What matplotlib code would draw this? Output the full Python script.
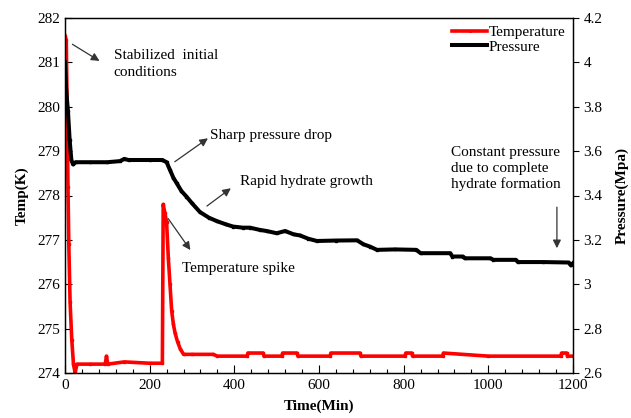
import matplotlib
matplotlib.use("Agg")
import matplotlib.pyplot as plt
from matplotlib.ticker import MultipleLocator, FuncFormatter

# ---- data ----
temp_t = [0, 3, 5, 7, 9, 12, 16, 20, 24, 28, 60, 95, 98, 101, 140, 200, 230,
          232, 236, 240, 244, 248, 252, 256, 260, 266, 272, 280, 300, 350, 360,
          430, 432, 468, 470, 512, 514, 548, 550, 626, 628, 697, 699, 803, 805,
          819, 821, 892, 894, 1000, 1171, 1173, 1185, 1187, 1200]
temp_v = [281.6, 281.5, 280.0, 278.2, 276.9, 275.6, 274.75, 274.2, 274.0, 274.2,
          274.2, 274.2, 274.38, 274.2, 274.25, 274.22, 274.22,
          277.8, 277.6, 277.4, 276.6, 276.0, 275.4, 275.1, 274.9, 274.7, 274.55,
          274.42, 274.42, 274.42, 274.38,
          274.38, 274.45, 274.45, 274.38, 274.38, 274.45, 274.45, 274.38,
          274.38, 274.45, 274.45, 274.38, 274.38, 274.45, 274.45, 274.38,
          274.38, 274.45, 274.38, 274.38, 274.45, 274.45, 274.38, 274.38]

pres_t = [0, 3, 7, 11, 15, 19, 25, 60, 100, 130, 140, 150, 200, 230, 240, 248,
          256, 264, 275, 287, 300, 319, 340, 358, 380, 397, 420, 437, 460, 476,
          500, 520, 540, 555, 575, 595, 640, 690, 705, 720, 737, 780, 830, 840,
          910, 915, 940, 945, 1005, 1012, 1065, 1070, 1130, 1190, 1195, 1200]
pres_v = [4.0, 3.87, 3.78, 3.65, 3.56, 3.54, 3.55, 3.55, 3.55, 3.555, 3.565,
          3.56, 3.56, 3.56, 3.55, 3.515, 3.48, 3.455, 3.42, 3.395, 3.365, 3.325,
          3.30, 3.285, 3.27, 3.26, 3.255, 3.255, 3.245, 3.24, 3.23, 3.24, 3.225,
          3.22, 3.205, 3.195, 3.197, 3.198, 3.18, 3.17, 3.155, 3.157, 3.155,
          3.14, 3.14, 3.125, 3.125, 3.117, 3.117, 3.11, 3.11, 3.10, 3.10, 3.098,
          3.085, 3.095]

x_ticks = [0, 200, 400, 600, 800, 1000, 1200]
temp_ticks = [274, 275, 276, 277, 278, 279, 280, 281, 282]
pres_ticks = [2.6, 2.8, 3.0, 3.2, 3.4, 3.6, 3.8, 4.0, 4.2]

plt.rcParams['font.family'] = ['Liberation Serif', 'DejaVu Serif']
FS = 11

fig = plt.figure(figsize=(6.31, 4.18), dpi=100)
ax1 = fig.add_axes([65/631, 1-373/418, (573-65)/631, (373-18)/418])
ax2 = ax1.twinx()

l1, = ax1.plot(temp_t, temp_v, color='#ff0000', lw=2.6, marker='s', ms=1.8,
               mec='#ff0000', label='Temperature')
l2, = ax2.plot(pres_t, pres_v, color='black', lw=2.9, marker='s', ms=1.8,
               mec='black', label='Pressure')

ax1.set_xlim(0, 1200)
ax1.set_ylim(274, 282)
ax2.set_ylim(2.6, 4.2)
ax1.set_xticks(x_ticks)
ax1.xaxis.set_minor_locator(MultipleLocator(40))
ax1.set_yticks(temp_ticks)
ax2.set_yticks(pres_ticks)
ax2.yaxis.set_major_formatter(FuncFormatter(lambda v, p: f"{v:g}"))

ax1.tick_params(axis='x', which='major', direction='in', length=6, width=0.8,
                labelsize=FS, pad=4)
ax1.tick_params(axis='x', which='minor', direction='in', length=3, width=0.8)
ax1.tick_params(axis='y', direction='in', length=5, width=0.8, labelsize=FS)
ax2.tick_params(axis='y', direction='out', length=4, width=0.8, labelsize=FS)
for a in (ax1, ax2):
    for s in a.spines.values():
        s.set_linewidth(0.9)
        s.set_color('black')

ax1.set_xlabel('Time(Min)', fontsize=FS, fontweight='bold', labelpad=6)
ax1.set_ylabel('Temp(K)', fontsize=FS, fontweight='bold', labelpad=6)
ax2.set_ylabel('Pressure(Mpa)', fontsize=FS, fontweight='bold', labelpad=9)

ax2.legend(handles=[l1, l2], loc='upper right', frameon=False, fontsize=FS,
           handlelength=2.3, handletextpad=0.1, borderaxespad=0.1,
           labelspacing=0.05, markerscale=0.6)

arrow = dict(arrowstyle='-|>', color='#333333', lw=0.9, mutation_scale=12)
# Stabilized initial conditions
ax1.annotate('', xy=(87, 281.0), xytext=(12, 281.44), arrowprops=arrow)
ax1.text(115, 281.3, 'Stabilized  initial\nconditions', fontsize=FS,
         va='top', ha='left', linespacing=1.35)
# Sharp pressure drop
ax2.annotate('', xy=(343, 3.665), xytext=(254, 3.545), arrowprops=arrow)
ax2.text(343, 3.67, 'Sharp pressure drop', fontsize=FS, va='center', ha='left')
# Rapid hydrate growth
ax2.annotate('', xy=(397, 3.44), xytext=(330, 3.345), arrowprops=arrow)
ax2.text(413, 3.465, 'Rapid hydrate growth', fontsize=FS, va='center', ha='left')
# Temperature spike
ax1.annotate('', xy=(300, 276.72), xytext=(240, 277.53), arrowprops=arrow)
ax1.text(276, 276.35, 'Temperature spike', fontsize=FS, va='center', ha='left')
# Constant pressure
ax2.annotate('', xy=(1162, 3.15), xytext=(1162, 3.36), arrowprops=arrow)
ax2.text(911, 3.52, 'Constant pressure\ndue to complete\nhydrate formation',
         fontsize=FS, va='center', ha='left', linespacing=1.25)

fig.savefig('out.png', dpi=100)
